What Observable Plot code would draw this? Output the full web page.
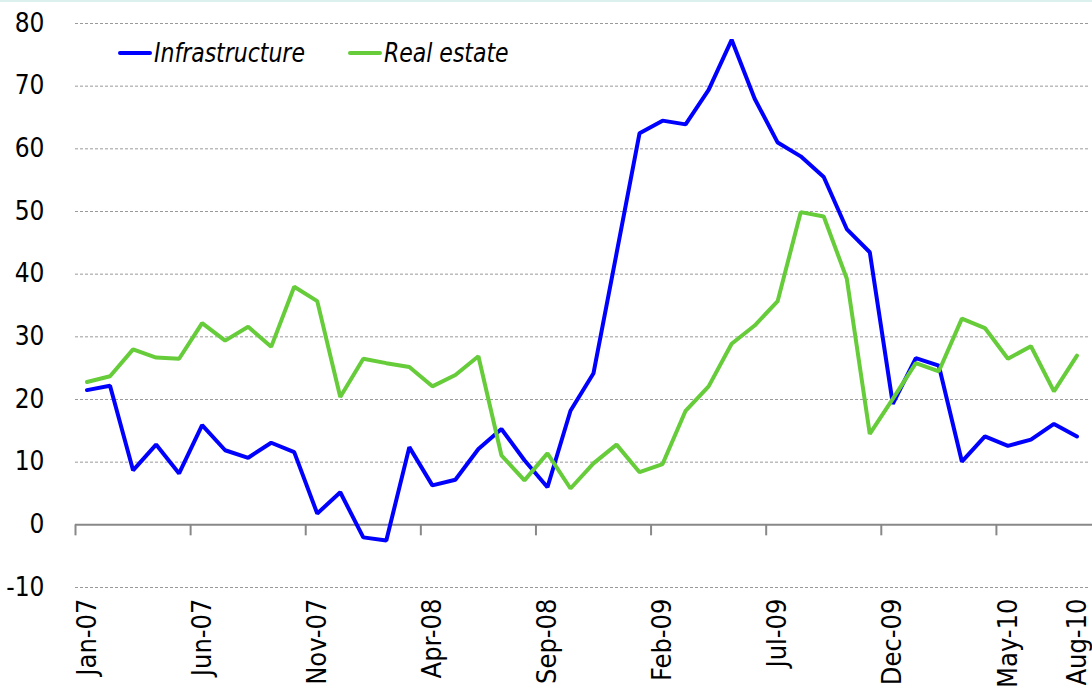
<!DOCTYPE html>
<html>
<head>
<meta charset="utf-8">
<script src="https://cdn.jsdelivr.net/npm/d3@7"></script>
<script src="https://cdn.jsdelivr.net/npm/@observablehq/plot@0.6"></script>
<style>
  html, body { margin: 0; padding: 0; background: #fff; }
  #wrap { position: relative; width: 1092px; height: 692px; border-top: 2px solid #dcf1ee; box-sizing: border-box; }
  #chart { position: absolute; left: 0; top: -2px; }
  .legend { position: absolute; top: 51px; left: 118px; display: flex; align-items: center;
            font-family: "Liberation Sans Narrow", "DejaVu Sans Condensed", "Liberation Sans", sans-serif;
            font-style: italic; font-size: 26px; color: #000; }
  .legend .item { position: absolute; display: flex; align-items: center; white-space: nowrap; }
  .legend .sw { width: 34px; height: 4px; border-radius: 2px; margin-right: 2px; }
  .legend span { display: inline-block; transform-origin: left center; }
</style>
</head>
<body>
<div id="wrap">
  <div id="chart"></div>
  <div class="legend" id="legend"></div>
</div>
<script>
// Monthly series, Jan-07 .. Aug-10 (44 months)
const infrastructure = [21.5, 22.2, 8.7, 12.8, 8.2, 15.9, 11.9, 10.7, 13.1, 11.6,
  1.8, 5.2, -2.0, -2.5, 12.4, 6.3, 7.2, 12.1, 15.3, 10.3,
  6.0, 18.2, 24.2, 43.3, 62.5, 64.5, 63.9, 69.4, 77.4, 68.0,
  61.0, 58.8, 55.5, 47.2, 43.5, 19.3, 26.6, 25.4, 10.1, 14.1,
  12.6, 13.6, 16.1, 14.1];
const realEstate = [22.8, 23.7, 28.0, 26.7, 26.5, 32.2, 29.4, 31.6, 28.4, 38.0,
  35.7, 20.4, 26.5, 25.8, 25.2, 22.1, 23.9, 26.9, 11.1, 7.1,
  11.4, 5.8, 9.8, 12.8, 8.4, 9.7, 18.2, 22.1, 28.9, 31.8,
  35.7, 49.9, 49.2, 39.3, 14.5, 20.1, 25.8, 24.5, 32.9, 31.4,
  26.5, 28.5, 21.3, 27.0];
const tickIndex = [0, 5, 10, 15, 20, 25, 30, 35, 40, 43];
const tickLabels = ["Jan-07", "Jun-07", "Nov-07", "Apr-08", "Sep-08", "Feb-09", "Jul-09", "Dec-09", "May-10", "Aug-10"];
const tickMarks = [-0.5, 4.5, 9.5, 14.5, 19.5, 24.5, 29.5, 34.5, 39.5];
const yTicks = [-10, 0, 10, 20, 30, 40, 50, 60, 70, 80];
const gridValues = [-10, 10, 20, 30, 40, 50, 60, 70, 80];
const seriesNames = ["Infrastructure", "Real estate"];
const seriesColors = ["#0000ff", "#66cc3a"];
const legendOffsets = [0, 230];

const data = [];
infrastructure.forEach((v, i) => data.push({i, v, s: seriesNames[0]}));
realEstate.forEach((v, i) => data.push({i, v, s: seriesNames[1]}));

const font = '"Liberation Sans Narrow", "DejaVu Sans Condensed", "Liberation Sans", sans-serif';
const labelMap = new Map(tickIndex.map((t, k) => [t, tickLabels[k]]));

const chart = Plot.plot({
  width: 1092,
  height: 692,
  marginLeft: 75,
  marginRight: 4,
  marginTop: 23,
  marginBottom: 105,
  style: {fontFamily: font, background: "transparent", overflow: "visible", color: "#000"},
  x: {domain: [-0.5, 43.5]},
  y: {domain: [-10, 80]},
  color: {domain: seriesNames, range: seriesColors},
  marks: [
    Plot.ruleY(gridValues, {stroke: "#9a9a9a", strokeWidth: 1, strokeDasharray: "3,2", insetRight: -2}),
    Plot.axisY({ticks: yTicks, tickSize: 0, tickPadding: 31, tickFormat: d => String(d), fontSize: 26, label: null}),
    Plot.axisX({ticks: tickIndex, tickFormat: d => labelMap.get(d), tickRotate: -90, tickSize: 0, tickPadding: 11, fontSize: 27, label: null}),
    Plot.ruleY([0], {stroke: "#888", strokeWidth: 2, insetRight: -4}),
    Plot.ruleX(tickMarks, {x: d => d, y1: 0, y2: 0, insetBottom: -11, stroke: "#888", strokeWidth: 2}),
    Plot.line(data, {x: "i", y: "v", z: "s", stroke: "s", strokeWidth: 4, strokeLinejoin: "miter", strokeLinecap: "round"})
  ]
});
document.getElementById("chart").appendChild(chart);

const legend = document.getElementById("legend");
seriesNames.forEach((name, k) => {
  const item = document.createElement("div");
  item.className = "item";
  item.style.left = legendOffsets[k] + "px";
  const sw = document.createElement("div");
  sw.className = "sw";
  sw.style.background = seriesColors[k];
  const label = document.createElement("span");
  label.textContent = name;
  label.style.transform = "scaleX(0.94)";
  item.appendChild(sw);
  item.appendChild(label);
  legend.appendChild(item);
});
</script>
</body>
</html>
